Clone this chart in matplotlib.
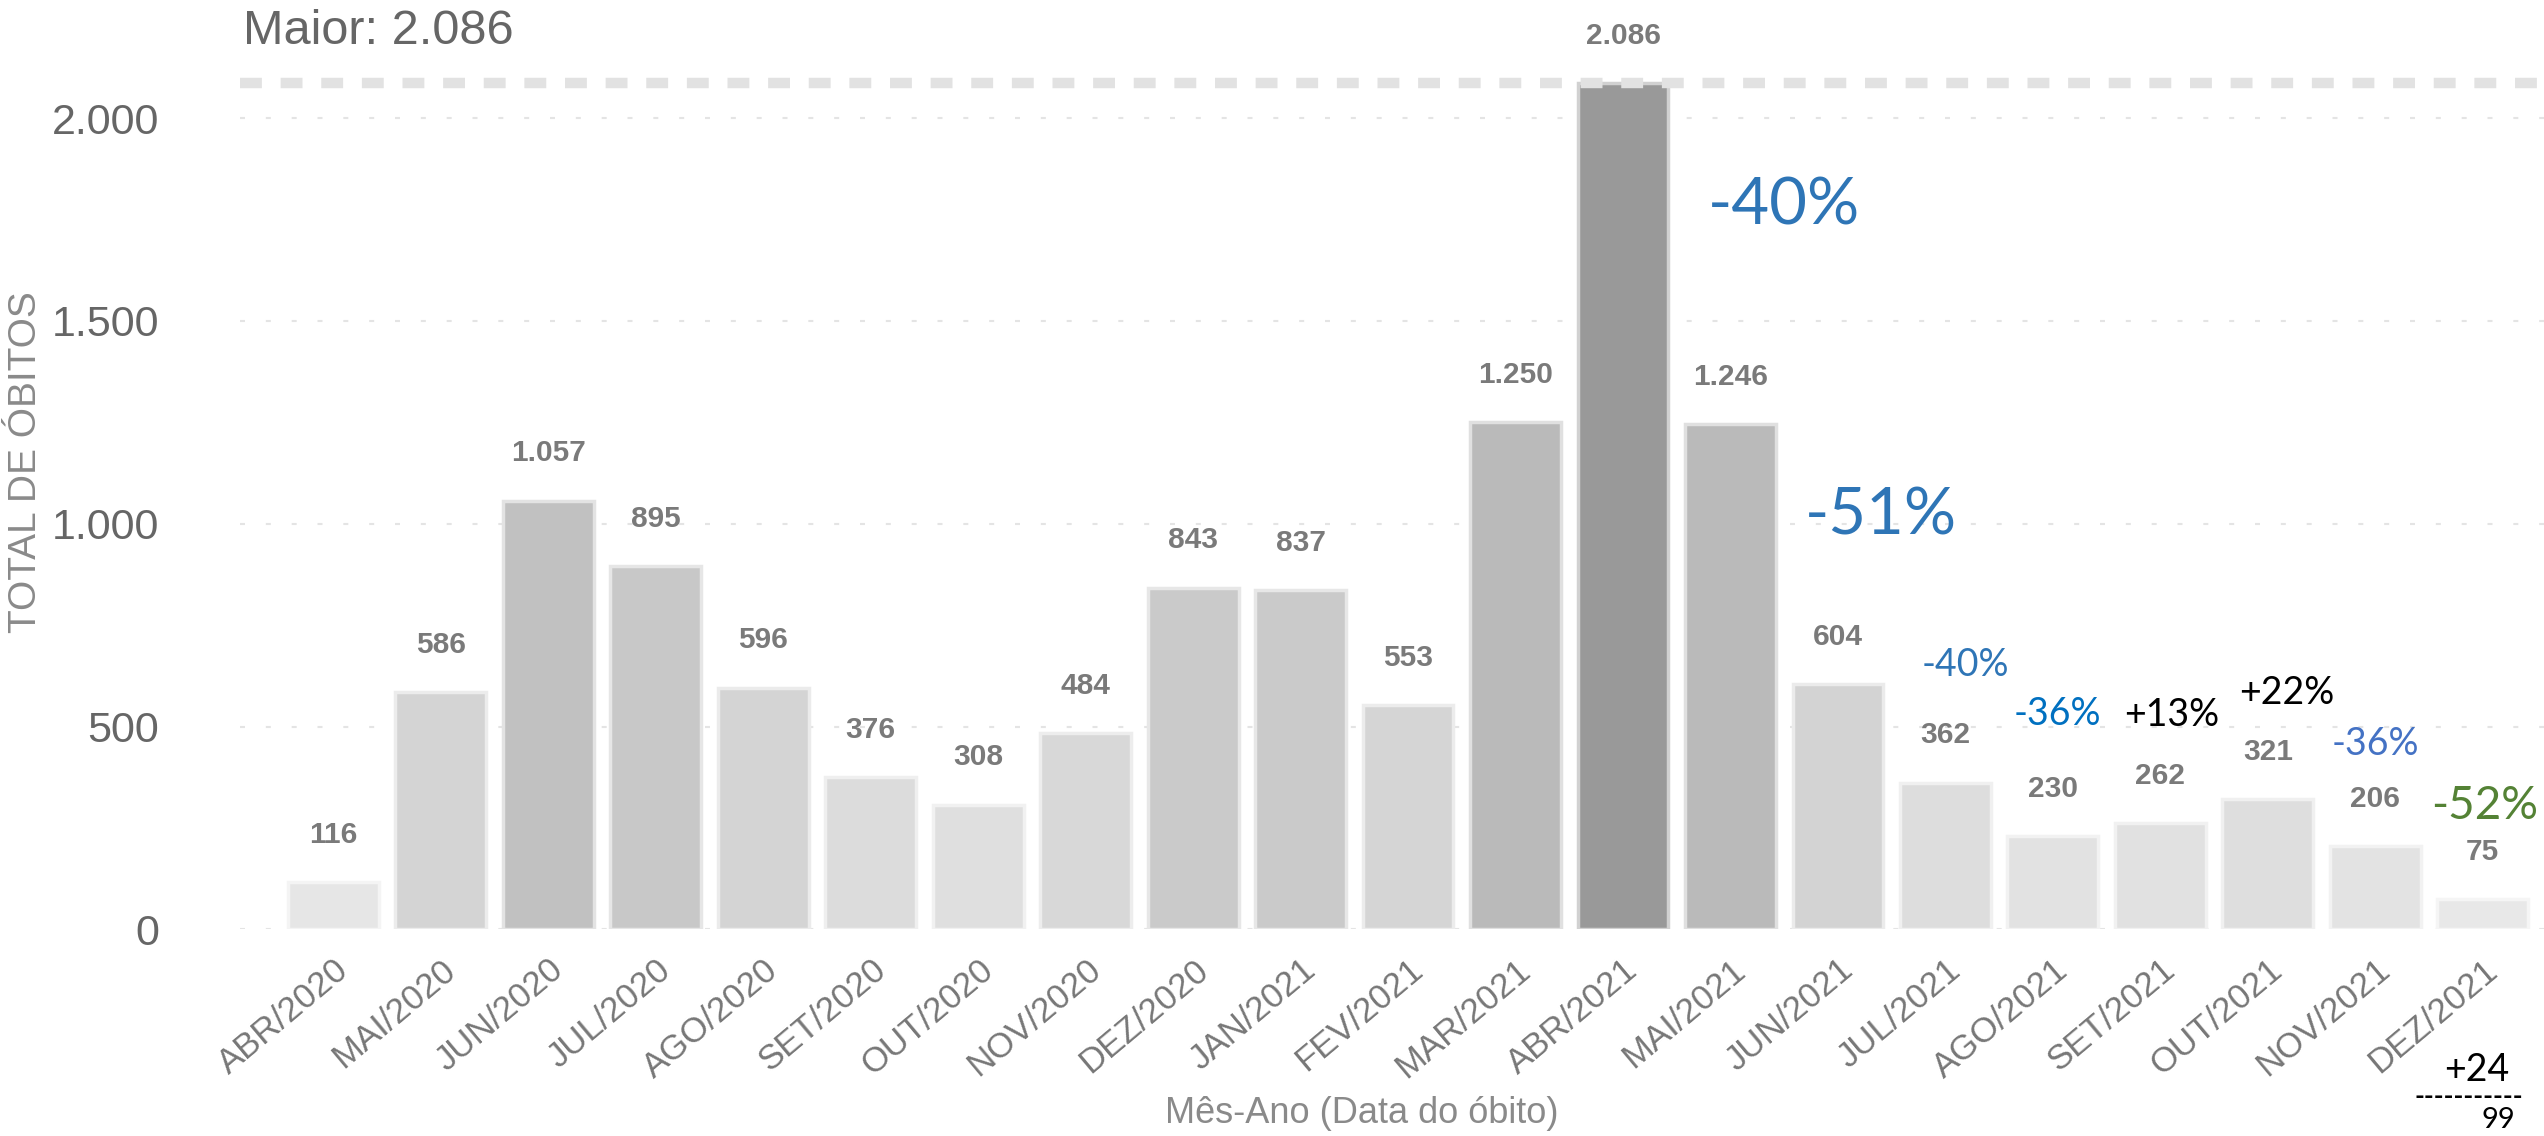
import matplotlib
matplotlib.use('Agg')
import matplotlib.pyplot as plt
import matplotlib.transforms as mtransforms
from matplotlib.colors import LinearSegmentedColormap, Normalize
from matplotlib.ticker import FuncFormatter, MultipleLocator

# dados
meses = ['ABR/2020', 'MAI/2020', 'JUN/2020', 'JUL/2020', 'AGO/2020', 'SET/2020',
         'OUT/2020', 'NOV/2020', 'DEZ/2020', 'JAN/2021', 'FEV/2021', 'MAR/2021',
         'ABR/2021', 'MAI/2021', 'JUN/2021', 'JUL/2021', 'AGO/2021', 'SET/2021',
         'OUT/2021', 'NOV/2021', 'DEZ/2021']
obitos = [116, 586, 1057, 895, 596, 376, 308, 484, 843, 837, 553, 1250,
          2086, 1246, 604, 362, 230, 262, 321, 206, 75]

# variacoes escritas a mao no grafico
variacoes = ['-40%', '-51%', '-40%', '-36%', '+13%', '+22%', '-36%', '-52%']
maior = max(obitos)


def fmt_br(v, pos=None):
    return f'{int(v):,}'.replace(',', '.')


fig = plt.figure(figsize=(25.44, 11.36), dpi=100)
ax = fig.add_axes([0.0943, 0.1818, 0.9057, 0.7856])

# cor da barra proporcional ao valor
cmap = LinearSegmentedColormap.from_list('cinza', ['#e8e8e8', '#999999'])
norm = Normalize(vmin=min(obitos), vmax=maior)
cores = [cmap(norm(v)) for v in obitos]
bordas = [tuple(c[i] + (1 - c[i]) * 0.55 for i in range(3)) for c in cores]

x = list(range(len(meses)))
ax.bar(x, obitos, width=0.845, color=cores, edgecolor=bordas, linewidth=2.5, zorder=2)

ax.set_xlim(-0.87, 20.57)
ax.set_ylim(0, 2200)
ax.yaxis.set_major_locator(MultipleLocator(500))
ax.yaxis.set_major_formatter(FuncFormatter(fmt_br))
ax.grid(axis='y', color='#e4e4e4', linewidth=1.5, linestyle=(0, (2.4, 10)), zorder=0)
ax.set_axisbelow(True)
for s in ax.spines.values():
    s.set_visible(False)
ax.tick_params(axis='both', length=0)
ax.tick_params(axis='y', pad=58, labelsize=31, labelcolor='#666666')

# linha do maior valor
ax.axhline(maior, color='#e2e2e2', linewidth=7.5, linestyle=(0, (2.1, 1.8)), zorder=3)
fig.text(0.0955, 0.972, f'Maior: {fmt_br(maior)}', fontsize=35, color='#666666',
         family='Liberation Sans', va='center', ha='left')

# rotulos de dados
for xi, v in zip(x, obitos):
    ax.annotate(fmt_br(v), (xi, v), xytext=(0, 34), textcoords='offset points',
                ha='center', va='center', fontsize=21.5, color='#7a7a7a', fontweight='bold',
                family='Liberation Sans')

ax.set_xticks(x)
ax.set_xticklabels(meses, rotation=40, ha='right', va='top', rotation_mode='anchor',
                   fontsize=25, color='#777777', family='Liberation Sans')
desloc = mtransforms.ScaledTranslation(22 / 72, 0, fig.dpi_scale_trans)
for lbl in ax.get_xticklabels():
    lbl.set_transform(lbl.get_transform() + desloc)
ax.tick_params(axis='x', pad=17)
for lbl in ax.get_yticklabels():
    lbl.set_family('Liberation Sans')

ax.set_ylabel('TOTAL DE ÓBITOS', fontsize=28, color='#8a8a8a', family='Liberation Sans')
ax.yaxis.set_label_coords(-0.085, 0.524)
ax.set_xlabel('Mês-Ano (Data do óbito)', fontsize=26, color='#8a8a8a', family='Liberation Sans')
ax.xaxis.set_label_coords(0.487, -0.187)

# anotacoes coloridas
notas = [
    (variacoes[0], 13.50, 1784, '#2e75b6', 47),
    (variacoes[1], 14.40, 1020, '#2e75b6', 47),
    (variacoes[2], 15.19, 652, '#2e75b6', 27),
    (variacoes[3], 16.04, 532, '#0070c0', 27),
    (variacoes[4], 17.11, 529, '#000000', 27),
    (variacoes[5], 18.18, 584, '#000000', 27),
    (variacoes[6], 19.00, 456, '#4472c4', 27),
    (variacoes[7], 20.02, 304, '#548235', 33),
]
for txt, nx, ny, cor, tam in notas:
    ax.text(nx, ny, txt, color=cor, fontsize=tam, ha='center', va='center',
            family=['Lato', 'DejaVu Sans'], zorder=4)

fig.text(0.9737, 0.0585, '+24', fontsize=27, color='black', ha='center', va='center',
         family=['Lato', 'DejaVu Sans'])
fig.text(0.9705, 0.034, '-----------', fontsize=19, color='black', ha='center', va='center',
         family=['Lato', 'DejaVu Sans'], fontweight='bold')
fig.text(0.982, 0.003, '99', fontsize=21, color='black', ha='center', va='bottom',
         family=['Lato', 'DejaVu Sans'])

fig.savefig('out.png', dpi=100, facecolor='white')
